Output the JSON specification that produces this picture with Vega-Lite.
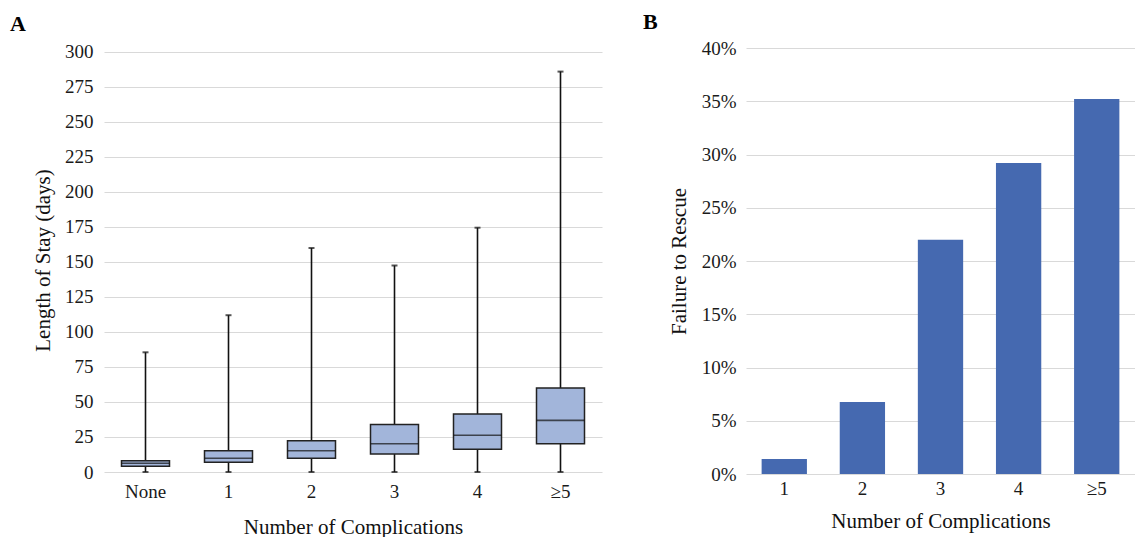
{
  "$schema": "https://vega.github.io/schema/vega-lite/v6.json",
  "padding": {"left": 10, "top": 11, "right": 0, "bottom": 0},
  "background": "white",
  "spacing": 41,
  "config": {
    "font": "Liberation Serif",
    "view": {"stroke": null},
    "axis": {
      "labelFont": "Liberation Serif",
      "titleFont": "Liberation Serif",
      "labelFontSize": 19,
      "titleFontSize": 21,
      "titleFontWeight": "normal",
      "labelColor": "#1a1a1a",
      "titleColor": "#111",
      "gridColor": "#d9d9d9",
      "gridWidth": 1,
      "labelOverlap": false
    },
    "title": {"font": "Liberation Serif", "fontSize": 22, "fontWeight": "bold", "color": "#000", "anchor": "start"}
  },
  "hconcat": [
    {
      "width": 498,
      "height": 424,
      "title": {"text": "A", "frame": "group", "dx": -94, "offset": 7},
      "data": {"values": [
        {"cat": "None", "min": 0, "q1": 4.1, "median": 6.2, "q3": 8.1, "max": 85.5},
        {"cat": "1", "min": 0, "q1": 6.9, "median": 9.8, "q3": 15.2, "max": 112},
        {"cat": "2", "min": 0, "q1": 9.8, "median": 15.2, "q3": 22.4, "max": 160},
        {"cat": "3", "min": 0, "q1": 12.9, "median": 20.2, "q3": 34, "max": 147.5},
        {"cat": "4", "min": 0, "q1": 16.2, "median": 26.2, "q3": 41.4, "max": 174.5},
        {"cat": "≥5", "min": 0, "q1": 20.2, "median": 36.9, "q3": 60, "max": 286}
      ]},
      "encoding": {
        "x": {"field": "cat", "type": "nominal", "sort": null,
          "axis": {"title": "Number of Complications", "labelAngle": 0, "domain": false, "ticks": false, "labelPadding": 10, "titlePadding": 15}}
      },
      "layer": [
        {
          "mark": {"type": "rule", "color": "#111", "strokeWidth": 1.6},
          "encoding": {
            "y": {"field": "min", "type": "quantitative", "scale": {"domain": [0, 302.857], "nice": false, "zero": true},
              "axis": {"title": "Length of Stay (days)", "values": [0,25,50,75,100,125,150,175,200,225,250,275,300], "domain": false, "ticks": false, "labelPadding": 11, "titlePadding": 11}},
            "y2": {"field": "max"}
          }
        },
        {
          "mark": {"type": "tick", "color": "#111", "size": 6, "thickness": 2},
          "encoding": {"y": {"field": "max", "type": "quantitative",
              "axis": {"title": "Length of Stay (days)", "values": [0,25,50,75,100,125,150,175,200,225,250,275,300], "domain": false, "ticks": false, "labelPadding": 11, "titlePadding": 11}}}
        },
        {
          "mark": {"type": "tick", "color": "#111", "size": 6, "thickness": 2},
          "encoding": {"y": {"field": "min", "type": "quantitative",
              "axis": {"title": "Length of Stay (days)", "values": [0,25,50,75,100,125,150,175,200,225,250,275,300], "domain": false, "ticks": false, "labelPadding": 11, "titlePadding": 11}}}
        },
        {
          "mark": {"type": "bar", "size": 48, "fill": "#a2b5da", "stroke": "#222", "strokeWidth": 1.5},
          "encoding": {
            "y": {"field": "q1", "type": "quantitative",
              "axis": {"title": "Length of Stay (days)", "values": [0,25,50,75,100,125,150,175,200,225,250,275,300], "domain": false, "ticks": false, "labelPadding": 11, "titlePadding": 11}},
            "y2": {"field": "q3"}
          }
        },
        {
          "mark": {"type": "tick", "color": "#111", "size": 48, "thickness": 1.6},
          "encoding": {"y": {"field": "median", "type": "quantitative",
              "axis": {"title": "Length of Stay (days)", "values": [0,25,50,75,100,125,150,175,200,225,250,275,300], "domain": false, "ticks": false, "labelPadding": 11, "titlePadding": 11}}}
        }
      ]
    },
    {
      "width": 389,
      "height": 426,
      "title": {"text": "B", "frame": "group", "dx": -103, "offset": 5},
      "data": {"values": [
        {"cat": "1", "ftr": 0.014},
        {"cat": "2", "ftr": 0.0675},
        {"cat": "3", "ftr": 0.22},
        {"cat": "4", "ftr": 0.292},
        {"cat": "≥5", "ftr": 0.352}
      ]},
      "mark": {"type": "bar", "color": "#4569b0"},
      "encoding": {
        "x": {"field": "cat", "type": "nominal", "sort": null,
          "scale": {"paddingInner": 0.42, "paddingOuter": 0.2},
          "axis": {"title": "Number of Complications", "labelAngle": 0, "domain": false, "ticks": false, "labelPadding": 5, "titlePadding": 12}},
        "y": {"field": "ftr", "type": "quantitative", "scale": {"domain": [0, 0.4]},
          "axis": {"title": "Failure to Rescue", "format": ".0%", "values": [0,0.05,0.1,0.15,0.2,0.25,0.3,0.35,0.4], "domain": false, "ticks": false, "labelPadding": 10, "titlePadding": 12}}
      }
    }
  ]
}
